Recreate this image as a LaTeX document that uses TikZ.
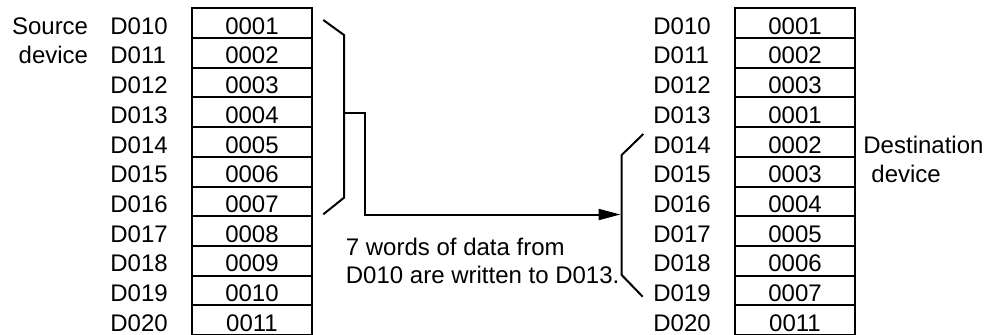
\documentclass[tikz,border=0pt]{standalone}
\usepackage{fontspec}
\setmainfont{Liberation Sans}
\usetikzlibrary{arrows.meta}

\tikzset{
  cell/.style={draw,line width=1pt,minimum width=60.3pt,minimum height=14.85pt,
    inner sep=0pt,text height=11.1pt,text depth=0pt},
  reg/.style={inner sep=0pt,text height=11.1pt,text depth=0pt,anchor=west},
  wire/.style={line width=1pt}
}

\begin{document}
\begin{tikzpicture}[x=0.5pt,y=-0.5pt,font=\fontsize{12pt}{14pt}\selectfont]
  \useasboundingbox (0,0) rectangle (1000,334);
  \foreach \v [count=\i from 0] in {0001,0002,0003,0004,0005,0006,0007,0008,0009,0010,0011} {
    \pgfmathtruncatemacro\r{10+\i}
    \node[cell] (src\i) at (252,23.15+29.7*\i) {\v};
    \node[reg] (srcreg\i) at (110,23.15+29.7*\i) {D0\r};
  }
  \foreach \v [count=\i from 0] in {0001,0002,0003,0001,0002,0003,0004,0005,0006,0007,0011} {
    \pgfmathtruncatemacro\r{10+\i}
    \node[cell] (dst\i) at (795,23.15+29.7*\i) {\v};
    \node[reg] (dstreg\i) at (653,23.15+29.7*\i) {D0\r};
  }
  \node[reg,anchor=east] (srcname1) at (88.5,23.15) {Source};
  \node[reg,anchor=east] (srcname2) at (88.5,52.85) {device};
  \node[reg] (dstname1) at (863,141.95) {Destination};
  \node[reg] (dstname2) at (871,171.65) {device};
  \node[inner sep=0pt,anchor=base west] (note1) at (345.5,255) {7 words of data from};
  \node[inner sep=0pt,anchor=base west] (note2) at (345.5,283.3) {D010 are written to D013.};
  \draw[wire] (323.3,20) -- (344,35) -- (344,197.7) -- (323.3,214.3);
  \draw[wire] (643.3,134) -- (621.7,155) -- (621.7,275) -- (642.7,296.7);
  \coordinate (srcbrace) at (344,113.3);
  \coordinate (dstbrace) at (620.5,214.5);
  \draw[wire,-{Triangle[length=11pt,width=5.5pt]}] (srcbrace) -- ++(21,0) |- (dstbrace);
\end{tikzpicture}
\end{document}
